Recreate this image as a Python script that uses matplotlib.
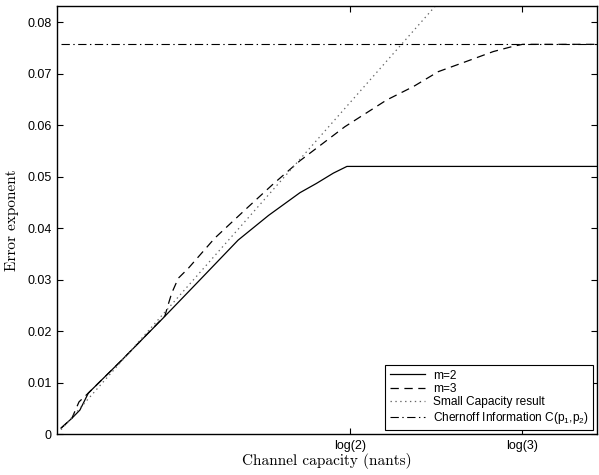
import numpy as np
import matplotlib
matplotlib.use('Agg')
import matplotlib.pyplot as plt

plt.rcParams['lines.scale_dashes'] = False
plt.rcParams['font.family'] = ['Liberation Sans', 'DejaVu Sans']
plt.rcParams['mathtext.fontset'] = 'custom'
plt.rcParams['mathtext.rm'] = 'Liberation Sans'
plt.rcParams['mathtext.it'] = 'Liberation Sans:italic'

# values (capacity in nats, error exponent)
cap_m2 = [0.0095, 0.035, 0.054, 0.074, 0.153, 0.25, 0.338, 0.428, 0.50, 0.574, 0.613, 0.653, 0.685, 1.28]
err_m2 = [0.0012, 0.0031, 0.0047, 0.0080, 0.0144, 0.0225, 0.0300, 0.0377, 0.0425, 0.0469, 0.0487, 0.0507, 0.0520, 0.0520]

cap_m3 = [0.0095, 0.035, 0.052, 0.074, 0.153, 0.255, 0.262, 0.271, 0.2866, 0.31, 0.373, 0.45, 0.511,
          0.574, 0.68, 0.779, 0.842, 0.901, 0.968, 1.031, 1.077, 1.10, 1.28]
err_m3 = [0.0012, 0.0031, 0.0063, 0.0080, 0.0144, 0.0230, 0.0250, 0.0274, 0.0303, 0.0322, 0.0381, 0.0440, 0.0486,
          0.0531, 0.0597, 0.0649, 0.0675, 0.0704, 0.0724, 0.0743, 0.0753, 0.0757, 0.0757]

cap_small = [0.0095, 0.90]
err_small = [0.0009, 0.0837]

cap_chern = [0.0095, 1.28]
err_chern = [0.0757, 0.0757]

xtick_vals = [np.log(2), np.log(3)]
xtick_labels = ['log(2)', 'log(3)']
ytick_vals = [0, 0.01, 0.02, 0.03, 0.04, 0.05, 0.06, 0.07, 0.08]
ytick_labels = ['0', '0.01', '0.02', '0.03', '0.04', '0.05', '0.06', '0.07', '0.08']

fig = plt.figure(figsize=(5.99, 4.75), dpi=100)
ax = fig.add_axes([0.0952, 0.0857, 0.9015, 0.9023])

ax.plot(cap_m2, err_m2, color='black', lw=0.9, label='m=2')
ax.plot(cap_m3, err_m3, color='black', lw=0.9, dashes=(6, 4), label='m=3')
ax.plot(cap_small, err_small, color='0.4', lw=0.9, dashes=(1, 2.5), label='Small Capacity result')
ax.plot(cap_chern, err_chern, color='black', lw=0.8, dashes=(6, 2.5, 1, 2.5),
        label='Chernoff Information C(p$_1$,p$_2$)')

ax.set_xlim(0, 1.276)
ax.set_ylim(0, 0.0832)
ax.set_xticks(xtick_vals)
ax.set_xticklabels(xtick_labels)
ax.set_yticks(ytick_vals)
ax.set_yticklabels(ytick_labels)
ax.tick_params(direction='in', length=4, width=0.8, top=True, right=True, labelsize=9, pad=4)
for s in ax.spines.values():
    s.set_linewidth(1.0)

ax.set_xlabel('Channel capacity (nants)', family='cmr10', fontsize=11, labelpad=1)
ax.set_ylabel('Error exponent', family='cmr10', fontsize=11, labelpad=6)

leg = ax.legend(loc='lower right', fontsize=8.6, handlelength=3.0, handletextpad=0.6,
                labelspacing=0.12, borderpad=0.35, borderaxespad=0.35, fancybox=False,
                framealpha=1, edgecolor='black')
leg.get_frame().set_linewidth(0.8)

fig.savefig('out.png', dpi=100)
